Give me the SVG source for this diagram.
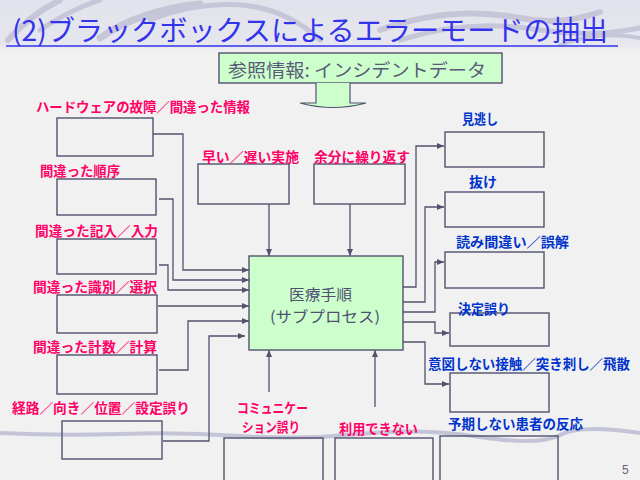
<svg xmlns="http://www.w3.org/2000/svg" width="640" height="480" viewBox="0 0 640 480">
<defs>
<style>
.bx{fill:none;stroke:#52526e;stroke-width:1.4}
.cn{fill:none;stroke:#52526e;stroke-width:1.3}
.red{font-family:"Noto Sans CJK JP",sans-serif;font-size:13.5px;font-weight:700;fill:#ff0066}
.blue{font-family:"Noto Sans CJK JP",sans-serif;font-size:13.5px;font-weight:700;fill:#0033cc}
.sw{fill:none;stroke:#c6c6d8;stroke-linecap:round}
</style>
<marker id="ah" markerWidth="8" markerHeight="8" refX="7" refY="3" orient="auto" markerUnits="userSpaceOnUse">
<path d="M0,0 L7,3 L0,6 z" fill="#52526e"/>
</marker>
<linearGradient id="topg" x1="0" y1="0" x2="0" y2="1">
<stop offset="0" stop-color="#e2e2ec"/>
<stop offset="0.85" stop-color="#e6e6ee"/>
<stop offset="1" stop-color="#f1f1f1"/>
</linearGradient>
</defs>

<g id="background">
<rect x="0" y="0" width="640" height="480" fill="#f1f1f1"/>
<rect x="0" y="0" width="640" height="52" fill="url(#topg)"/>
<path class="sw" stroke-width="6" d="M8,40 Q30,15 60,0"/>
<path class="sw" stroke-width="5" d="M40,30 Q70,10 100,0"/>
<path class="sw" stroke-width="7" d="M100,38 Q140,10 200,4"/>
<path class="sw" stroke-width="5" d="M150,20 Q200,0 250,6 Q290,12 320,40"/>
<path class="sw" stroke-width="6" d="M380,30 Q450,5 520,18 Q560,26 600,12"/>
<path class="sw" stroke-width="5" d="M400,40 Q470,18 540,30 Q590,38 640,28"/>
<path class="sw" stroke-width="4" d="M560,45 Q600,30 640,38"/>
<path fill="none" stroke="#c4c4d8" stroke-width="4" d="M0,433 Q60,436 120,434 T240,436 T360,434 T480,437 T560,435 T640,433"/>
</g>

<g id="title">
<text x="12" y="41" font-family="Noto Sans CJK JP, sans-serif" font-size="28" fill="#3333ee" textLength="596" lengthAdjust="spacingAndGlyphs">(2)ブラックボックスによるエラーモードの抽出</text>
<line x1="6" y1="46" x2="618" y2="46" stroke="#3333ee" stroke-width="1.5"/>
</g>

<g id="reference">
<rect x="219" y="53" width="283" height="30" fill="#ccffcc" stroke="#52526e" stroke-width="1.4"/>
<text x="228" y="77" font-family="Noto Sans CJK JP, sans-serif" font-size="18" fill="#5a5a78" textLength="258" lengthAdjust="spacingAndGlyphs">参照情報: インシデントデータ</text>
<path d="M316,83 V103 H300 Q333,112 366,103 H350 V83" fill="#ccffcc" stroke="#52526e" stroke-width="1.2"/>
</g>

<g id="connectors">
<path class="cn" marker-end="url(#ah)" d="M153,134 H183 V270 H249"/>
<path class="cn" marker-end="url(#ah)" d="M159,199 H173 V280 H249"/>
<path class="cn" marker-end="url(#ah)" d="M159,265 H168 V290 H249"/>
<path class="cn" marker-end="url(#ah)" d="M158,306 H249"/>
<path class="cn" marker-end="url(#ah)" d="M159,370 H188 V321 H249"/>
<path class="cn" marker-end="url(#ah)" d="M163,441 H209 V336 H245"/>
<path class="cn" marker-end="url(#ah)" d="M269,204 V256"/>
<path class="cn" marker-end="url(#ah)" d="M350,204 V256"/>
<path class="cn" marker-end="url(#ah)" d="M269,392 V350"/>
<path class="cn" marker-end="url(#ah)" d="M375,407 V350"/>
<path class="cn" marker-end="url(#ah)" d="M403,287 H416 V146 H444"/>
<path class="cn" marker-end="url(#ah)" d="M403,302 H425 V207 H444"/>
<path class="cn" marker-end="url(#ah)" d="M403,312 H435 V262 H444"/>
<path class="cn" marker-end="url(#ah)" d="M403,322 H435 V333 H449"/>
<path class="cn" marker-end="url(#ah)" d="M403,342 H425 V384 H449"/>
</g>

<g id="main">
<rect x="249" y="256" width="154" height="94" fill="#ccffcc" stroke="#52526e" stroke-width="1.4"/>
<text x="289" y="300" font-family="Noto Sans CJK JP, sans-serif" font-size="15" fill="#505070" textLength="63" lengthAdjust="spacingAndGlyphs">医療手順</text>
<text x="270" y="322" font-family="Noto Sans CJK JP, sans-serif" font-size="15" fill="#505070" textLength="110" lengthAdjust="spacingAndGlyphs">(サブプロセス)</text>
</g>

<g id="n-hardware">
<rect class="bx" x="57" y="118" width="96" height="38"/>
<text class="red" x="36" y="112" textLength="214" lengthAdjust="spacingAndGlyphs">ハードウェアの故障／間違った情報</text>
</g>
<g id="n-order">
<rect class="bx" x="57" y="179" width="99" height="36"/>
<text class="red" x="40" y="176" textLength="80" lengthAdjust="spacingAndGlyphs">間違った順序</text>
</g>
<g id="n-entry">
<rect class="bx" x="57" y="239" width="99" height="35"/>
<text class="red" x="35" y="236" textLength="123" lengthAdjust="spacingAndGlyphs">間違った記入／入力</text>
</g>
<g id="n-identify">
<rect class="bx" x="57" y="295" width="100" height="38"/>
<text class="red" x="33" y="292" textLength="124" lengthAdjust="spacingAndGlyphs">間違った識別／選択</text>
</g>
<g id="n-count">
<rect class="bx" x="57" y="355" width="100" height="39"/>
<text class="red" x="33" y="352" textLength="124" lengthAdjust="spacingAndGlyphs">間違った計数／計算</text>
</g>
<g id="n-route">
<rect class="bx" x="62" y="421" width="100" height="38"/>
<text class="red" x="12" y="413" textLength="178" lengthAdjust="spacingAndGlyphs">経路／向き／位置／設定誤り</text>
</g>
<g id="n-timing">
<rect class="bx" x="198" y="164" width="91" height="40"/>
<text class="red" x="202" y="162" textLength="97" lengthAdjust="spacingAndGlyphs">早い／遅い実施</text>
</g>
<g id="n-repeat">
<rect class="bx" x="314" y="164" width="91" height="40"/>
<text class="red" x="314" y="162" textLength="96" lengthAdjust="spacingAndGlyphs">余分に繰り返す</text>
</g>
<g id="n-communication">
<rect class="bx" x="224" y="438" width="99" height="50"/>
<text class="red" x="237" y="413" font-size="12" textLength="71" lengthAdjust="spacingAndGlyphs">コミュニケー</text>
<text class="red" x="242" y="432" font-size="12" textLength="58" lengthAdjust="spacingAndGlyphs">ション誤り</text>
</g>
<g id="n-unavailable">
<rect class="bx" x="335" y="438" width="98" height="50"/>
<text class="red" x="339" y="434" textLength="79" lengthAdjust="spacingAndGlyphs">利用できない</text>
</g>

<g id="n-overlook">
<rect class="bx" x="445" y="132" width="99" height="35"/>
<text class="blue" x="462" y="124" textLength="36" lengthAdjust="spacingAndGlyphs">見逃し</text>
</g>
<g id="n-omission">
<rect class="bx" x="445" y="192" width="99" height="35"/>
<text class="blue" x="469" y="187" textLength="28" lengthAdjust="spacingAndGlyphs">抜け</text>
</g>
<g id="n-misread">
<rect class="bx" x="445" y="252" width="99" height="36"/>
<text class="blue" x="456" y="247" textLength="113" lengthAdjust="spacingAndGlyphs">読み間違い／誤解</text>
</g>
<g id="n-decision">
<rect class="bx" x="450" y="313" width="99" height="33"/>
<text class="blue" x="458" y="314" textLength="52" lengthAdjust="spacingAndGlyphs">決定誤り</text>
</g>
<g id="n-contact">
<rect class="bx" x="450" y="373" width="99" height="39"/>
<text class="blue" x="428" y="369" textLength="202" lengthAdjust="spacingAndGlyphs">意図しない接触／突き刺し／飛散</text>
</g>
<g id="n-reaction">
<rect class="bx" x="440" y="436" width="118" height="52"/>
<text class="blue" x="448" y="429" textLength="135" lengthAdjust="spacingAndGlyphs">予期しない患者の反応</text>
</g>

<text x="622" y="474" font-family="Liberation Sans, sans-serif" font-size="12" fill="#666677">5</text>
</svg>
